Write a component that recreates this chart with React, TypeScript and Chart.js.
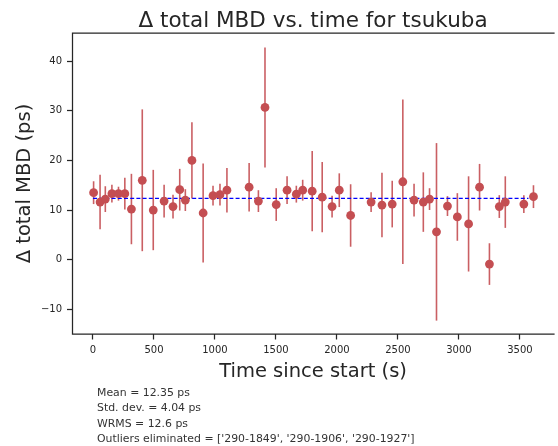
import React, { useEffect, useRef } from "react";
import { Chart, registerables } from "chart.js";

Chart.register(...registerables);

// Observation epochs (seconds since session start)
const times = [
  5, 58, 101, 155, 209, 261, 315, 404, 494, 583, 656, 711, 757, 811, 903, 984,
  1041, 1098, 1280, 1356, 1410, 1502, 1591, 1667, 1719, 1797, 1879, 1960, 2019,
  2112, 2280, 2369, 2453, 2540, 2632, 2708, 2759, 2816, 2906, 2987, 3079, 3169,
  3250, 3331, 3380, 3532, 3611,
];

// Δ total MBD per scan (ps)
const delays = [
  13.5, 11.6, 12.2, 13.3, 13.3, 13.3, 10.2, 16.0, 10.0, 11.8, 10.7, 14.1, 12.0,
  20.0, 9.4, 12.9, 13.1, 14.0, 14.6, 11.8, 30.7, 11.1, 14.0, 13.2, 14.0, 13.8,
  12.6, 10.7, 14.0, 8.9, 11.6, 11.0, 11.2, 15.7, 12.0, 11.6, 12.2, 5.6, 10.8,
  8.6, 7.2, 14.6, -0.9, 10.7, 11.6, 11.2, 12.7,
];

// 1-sigma uncertainty of each delay (ps)
const sigmas = [
  2.3, 5.5, 2.6, 1.8, 1.4, 3.2, 7.1, 14.3, 8.1, 3.3, 2.4, 4.2, 2.2, 7.7, 10.0,
  2.0, 2.2, 4.5, 4.9, 2.2, 12.1, 3.3, 2.8, 1.7, 2.1, 8.1, 7.1, 2.2, 3.4, 6.3,
  2.0, 6.5, 4.7, 16.6, 3.3, 6.0, 2.2, 17.9, 2.0, 4.8, 9.6, 4.7, 4.2, 2.3, 5.2,
  1.8, 2.3,
];

const xTicks = [0, 500, 1000, 1500, 2000, 2500, 3000, 3500];
const yTicks = [-10, 0, 10, 20, 30, 40];

const meanDelay = 12.35;
const meanSpan = [0, 3570];

const titleText = "Δ total MBD vs. time for tsukuba";
const xTitle = "Time since start (s)";
const yTitle = "Δ total MBD (ps)";
const statsLines = [
  "Mean = 12.35 ps",
  "Std. dev. = 4.04 ps",
  "WRMS = 12.6 ps",
  "Outliers eliminated = ['290-1849', '290-1906', '290-1927']",
];

const INK = "#262626";
const RED = "#c44e52";
const FONT = "'DejaVu Sans', sans-serif";

const errorBars = {
  id: "errorBars",
  beforeDatasetsDraw(chart: any) {
    const { ctx, scales } = chart;
    const x = scales.x;
    const y = scales.y;
    ctx.save();
    ctx.strokeStyle = "rgba(196,78,82,0.9)";
    ctx.lineWidth = 1.6;
    times.forEach((t, i) => {
      const px = x.getPixelForValue(t);
      ctx.beginPath();
      ctx.moveTo(px, y.getPixelForValue(delays[i] - sigmas[i]));
      ctx.lineTo(px, y.getPixelForValue(delays[i] + sigmas[i]));
      ctx.stroke();
    });
    ctx.restore();
  },
};

const frameAndText = {
  id: "frameAndText",
  afterDraw(chart: any) {
    const { ctx, chartArea } = chart;
    const { left, right, top, bottom } = chartArea;
    ctx.save();
    // spines: top, left, bottom
    ctx.strokeStyle = INK;
    ctx.lineWidth = 1.25;
    ctx.beginPath();
    ctx.moveTo(right + 1, top);
    ctx.lineTo(left, top);
    ctx.lineTo(left, bottom);
    ctx.lineTo(right + 1, bottom);
    ctx.stroke();

    const cx = (left + right) / 2;
    ctx.fillStyle = INK;

    // title
    ctx.font = `21.5px ${FONT}`;
    ctx.textAlign = "center";
    ctx.textBaseline = "alphabetic";
    ctx.fillText(titleText, cx, 26.5);

    // x axis title
    ctx.font = `19.5px ${FONT}`;
    ctx.textBaseline = "middle";
    ctx.fillText(xTitle, cx, 372);

    // y axis title
    ctx.save();
    ctx.translate(25, (top + bottom) / 2);
    ctx.rotate(-Math.PI / 2);
    ctx.fillText(yTitle, 0, 0);
    ctx.restore();

    // summary statistics
    ctx.font = `10.9px ${FONT}`;
    ctx.textAlign = "left";
    ctx.fillStyle = "#333333";
    statsLines.forEach((line, i) => {
      ctx.fillText(line, 97, 393 + i * 15.5);
    });
    ctx.restore();
  },
};

const fmtTick = (v: number | string) => {
  const n = Number(v);
  return n < 0 ? "\u2212" + Math.abs(n) : String(n);
};

export default function App() {
  const canvasRef = useRef<HTMLCanvasElement | null>(null);

  useEffect(() => {
    document.body.style.margin = "0";
    const canvas = canvasRef.current;
    if (!canvas) return;

    const chart = new Chart(canvas, {
      type: "scatter",
      data: {
        datasets: [
          {
            type: "scatter",
            label: "Δ total MBD",
            data: times.map((t, i) => ({ x: t, y: delays[i] })),
            backgroundColor: RED,
            borderColor: RED,
            borderWidth: 0,
            pointRadius: 4.4,
            pointHoverRadius: 4.4,
            order: 0,
          },
          {
            type: "line",
            label: "Mean",
            data: meanSpan.map((t) => ({ x: t, y: meanDelay })),
            borderColor: "#0000ff",
            borderWidth: 1.1,
            borderDash: [4, 2.2],
            pointRadius: 0,
            fill: false,
            order: 1,
          },
        ],
      },
      options: {
        responsive: false,
        animation: false,
        events: [],
        layout: { padding: { top: 33, right: 0, bottom: 0, left: 0 } },
        plugins: {
          legend: { display: false },
          title: { display: false },
          tooltip: { enabled: false },
        },
        scales: {
          x: {
            type: "linear",
            min: -168,
            max: 3776,
            afterBuildTicks: (s: any) => {
              s.ticks = xTicks.map((v) => ({ value: v }));
            },
            afterFit: (s: any) => {
              s.height = 112;
            },
            border: { display: false },
            grid: {
              drawOnChartArea: false,
              drawTicks: true,
              tickLength: 5.5,
              tickWidth: 1.25,
              tickColor: INK,
            },
            ticks: {
              autoSkip: false,
              maxRotation: 0,
              padding: 5,
              color: INK,
              font: { family: FONT, size: 10 },
              callback: (v: any) => fmtTick(v),
            },
          },
          y: {
            type: "linear",
            min: -15,
            max: 45.7,
            afterBuildTicks: (s: any) => {
              s.ticks = yTicks.map((v) => ({ value: v }));
            },
            afterFit: (s: any) => {
              s.width = 72.5;
            },
            border: { display: false },
            grid: {
              drawOnChartArea: false,
              drawTicks: true,
              tickLength: 5.5,
              tickWidth: 1.25,
              tickColor: INK,
            },
            ticks: {
              padding: 5,
              color: INK,
              font: { family: FONT, size: 10 },
              callback: (v: any) => fmtTick(v),
            },
          },
        },
      },
      plugins: [errorBars, frameAndText],
    });

    return () => chart.destroy();
  }, []);

  return (
    <div style={{ width: 558, height: 446, background: "#ffffff" }}>
      <canvas ref={canvasRef} width={558} height={446} />
    </div>
  );
}
